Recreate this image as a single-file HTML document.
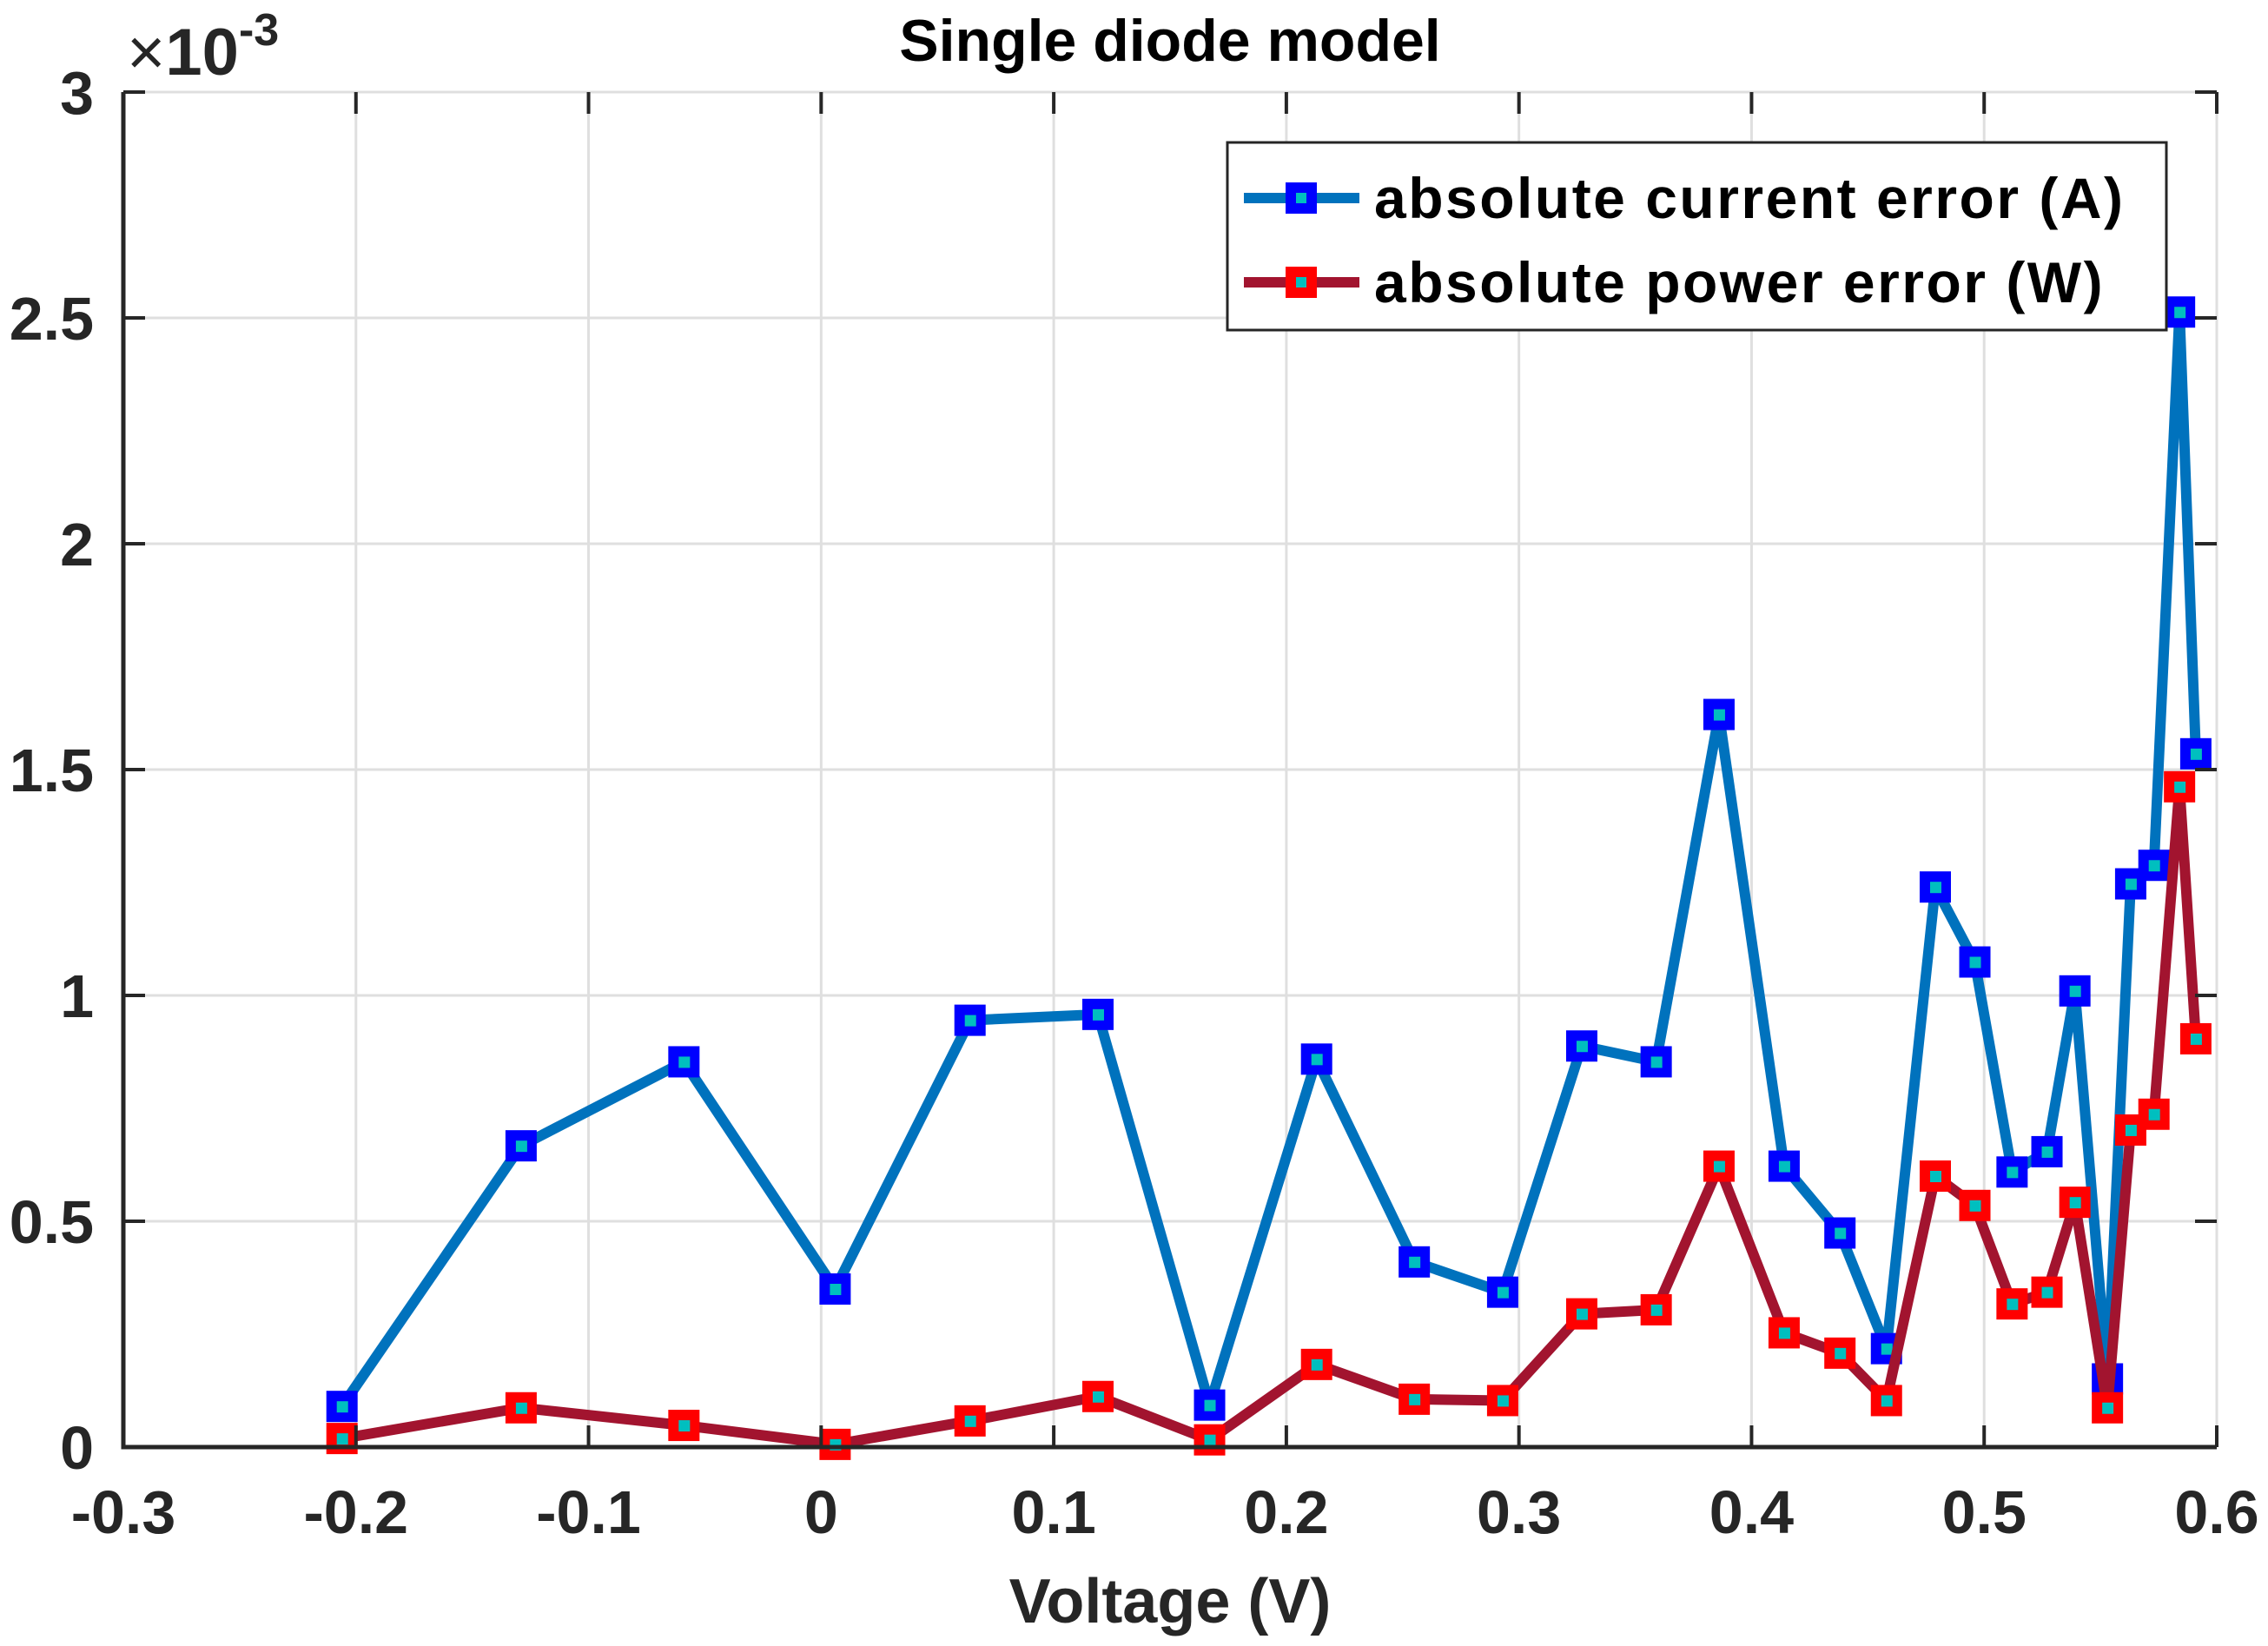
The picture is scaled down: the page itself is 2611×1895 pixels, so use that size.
<!DOCTYPE html>
<html><head><meta charset="utf-8"><style>
html,body{margin:0;padding:0;background:#fff;}
svg{display:block;font-family:"Liberation Sans",Arial,sans-serif;font-weight:bold;}
</style></head><body>
<svg id="chart" width="2611" height="1895" viewBox="0 0 2611 1895" xmlns="http://www.w3.org/2000/svg">
<g id="grid"></g>
<g id="series"></g>
<g id="axes"></g>
<text x="1347" y="70" font-size="68" text-anchor="middle" fill="#000">Single diode model</text>
<text x="1347" y="1868" font-size="72" text-anchor="middle" fill="#262626">Voltage (V)</text>
<text x="146" y="86" font-size="76" fill="#262626"><tspan font-weight="normal">×</tspan>10<tspan dy="-34" font-size="52">-3</tspan></text>
<g>
<rect x="1413" y="164" width="1081" height="216" fill="#fff" stroke="#262626" stroke-width="3"/>
<g>
<line x1="1432" y1="228" x2="1565" y2="228" stroke="#0072bd" stroke-width="12"/>
<rect x="1480" y="210" width="36" height="36" fill="#0000ff"/><rect x="1492" y="222" width="12" height="12" fill="#00bfbf"/>
<text x="1582" y="251" font-size="66" letter-spacing="2.5" fill="#000">absolute current error (A)</text>
</g>
<g>
<line x1="1432" y1="325" x2="1565" y2="325" stroke="#a2142f" stroke-width="12"/>
<rect x="1480" y="307" width="36" height="36" fill="#ff0000"/><rect x="1492" y="319" width="12" height="12" fill="#00bfbf"/>
<text x="1582" y="348" font-size="66" letter-spacing="2.5" fill="#000">absolute power error (W)</text>
</g>
</g>
<script>
const voltage=[-0.206,-0.129,-0.059,0.006,0.064,0.119,0.167,0.213,0.255,0.293,0.327,0.359,0.386,0.414,0.438,0.458,0.479,0.496,0.512,0.527,0.539,0.553,0.563,0.573,0.584,0.591];
const currentErr=[0.09,0.667,0.853,0.35,0.945,0.958,0.093,0.859,0.41,0.343,0.888,0.853,1.622,0.622,0.474,0.218,1.24,1.074,0.609,0.654,1.01,0.151,1.247,1.288,2.513,1.535];
const powerErr=[0.019,0.087,0.048,0.006,0.058,0.112,0.016,0.183,0.106,0.103,0.295,0.304,0.622,0.253,0.208,0.103,0.6,0.535,0.317,0.343,0.542,0.087,0.702,0.737,1.462,0.904];
const xTicks=[-0.3,-0.2,-0.1,0,0.1,0.2,0.3,0.4,0.5,0.6];
const xTickLabels=["-0.3","-0.2","-0.1","0","0.1","0.2","0.3","0.4","0.5","0.6"];
const yTicks=[0,0.5,1,1.5,2,2.5,3];
const yTickLabels=["0","0.5","1","1.5","2","2.5","3"];
const L=142,R=2552,T=106,B=1666;
const xs=v=>L+(v+0.3)/0.9*(R-L);
const ys=v=>B-v/3*(B-T);
const NS="http://www.w3.org/2000/svg";
function mk(tag,attrs,parent){const e=document.createElementNS(NS,tag);for(const k in attrs)e.setAttribute(k,attrs[k]);parent.appendChild(e);return e;}
const grid=document.getElementById('grid'),axes=document.getElementById('axes'),series=document.getElementById('series');
xTicks.forEach((t,i)=>{
  const x=xs(t);
  const g=mk('line',{x1:x,y1:T,x2:x,y2:B,stroke:'#dfdfdf','stroke-width':3},grid);
  
  
  mk('line',{x1:x,y1:B,x2:x,y2:B-25,stroke:'#262626','stroke-width':4},axes);
  mk('line',{x1:x,y1:T,x2:x,y2:T+25,stroke:'#262626','stroke-width':4},axes);
  const tx=mk('text',{x:x,y:1765,'font-size':70,'text-anchor':'middle',fill:'#262626'},axes);
  tx.textContent=xTickLabels[i];
  
  
});
yTicks.forEach((t,i)=>{
  const y=ys(t);
  const g=mk('line',{x1:L,y1:y,x2:R,y2:y,stroke:'#dfdfdf','stroke-width':3},grid);
  
  
  mk('line',{x1:L,y1:y,x2:L+25,y2:y,stroke:'#262626','stroke-width':4},axes);
  mk('line',{x1:R,y1:y,x2:R-25,y2:y,stroke:'#262626','stroke-width':4},axes);
  const tx=mk('text',{x:108,y:y+25,'font-size':70,'text-anchor':'end',fill:'#262626'},axes);
  tx.textContent=yTickLabels[i];
  
  
});
const frame=mk('path',{d:`M${L},${T}V${B}H${R}`,fill:'none',stroke:'#262626','stroke-width':5},axes);


function drawSeries(vals,lineColor,markColor,name){
  const g=mk('g',{},series);
  
  
  const pts=voltage.map((v,i)=>xs(v)+','+ys(vals[i])).join(' ');
  const pl=mk('polyline',{points:pts,fill:'none',stroke:lineColor,'stroke-width':12,'stroke-linejoin':'round'},g);
  
  
  voltage.forEach((v,i)=>{
    const x=xs(v),y=ys(vals[i]);
    const m=mk('rect',{x:x-18,y:y-18,width:36,height:36,fill:markColor},g);
    
    
    mk('rect',{x:x-6,y:y-6,width:13,height:13,fill:'#00bfbf'},g);
  });
}
drawSeries(currentErr,'#0072bd','#0000ff','current-error-series');
drawSeries(powerErr,'#a2142f','#ff0000','power-error-series');
</script>
</svg>
</body></html>
